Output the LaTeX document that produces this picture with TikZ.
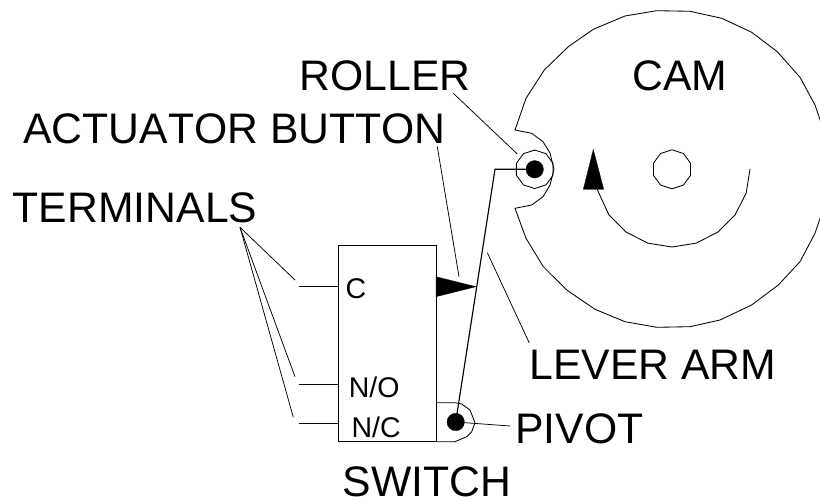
\documentclass[tikz,border=0pt]{standalone}
\usepackage{fontspec}
\usetikzlibrary{shapes.geometric}
\setmainfont[Kerning=Off]{Liberation Sans}
\tikzset{
  line/.style={draw=black,line width=0.85pt,line join=miter},
  leader/.style={draw=black,line width=0.75pt},
  biglabel/.style={inner sep=0pt,anchor=base west,font=\fontsize{42.7}{44}\selectfont},
  smalllabel/.style={inner sep=0pt,anchor=base west,font=\fontsize{28.5}{30}\selectfont},
  solid fill/.style={fill=black,draw=black,line width=0.3pt}
}
\begin{document}
\begin{tikzpicture}[x=1pt,y=1pt]
\clip (0,0) rectangle (820,501);
\fill[white] (0,0) rectangle (820,501);
% y = 501 - pixel y
% cam outline with notch
\draw[line] (515,371) -- (526,402.7) -- (544.3,431) -- (568.3,454.3) -- (593.3,471.7) -- (625,485) -- (656.7,490.3) -- (690,489.7) -- (721.7,482.7) -- (751.7,468.7) -- (777.3,449.3) -- (800,423.7) -- (815,396) -- (826,364) -- (831,331)
  -- (826,300) -- (815,267.7) -- (800,239.3) -- (778.3,216) -- (751.7,196) -- (720,181) -- (690,174.3) -- (656.7,173.7) -- (625,179.3) -- (595,191.7) -- (566.7,211) -- (543.3,234.3) -- (526,262.7)
  -- (515,292.7) -- (531.7,296) -- (543,304.3) -- (550,316) -- (554,331.7)
  -- (550,348) -- (543,359.3) -- (531.7,367.7) -- cycle;
% hub
\node[draw=black,line width=0.85pt,minimum size=39pt,inner sep=0pt,regular polygon,regular polygon sides=10,shape border rotate=18] (hub) at (672,331.7) {};
% rotation arrow
\coordinate (arcstart) at (750,332);
\draw[line] (arcstart)
  -- plot[samples at={-18,-36,...,-144}] ({672+78*cos(\x)},{332+78*sin(\x)})
  -- (597,312);
\fill[solid fill] (593.3,351.7) -- (583.3,311.7) -- (603.7,311.7) -- cycle;
% roller
\node[draw=black,line width=0.85pt,minimum size=38.5pt,inner sep=0pt,regular polygon,regular polygon sides=10,shape border rotate=18] (roller) at (534.7,331.7) {};
\node[circle,solid fill,minimum size=17.5pt,inner sep=0pt] (rollerpin) at (534.7,331.7) {};
% switch body
\node[draw=black,line width=0.85pt,inner sep=0pt,minimum width=98.3pt,minimum height=195.7pt,anchor=south west] (switch) at (337.7,59.3) {};
% terminals
\coordinate (tc) at (299,214.3);
\coordinate (tno) at (299,116.7);
\coordinate (tnc) at (299,77.3);
\draw[line] (tc) -- (tc -| switch.west);
\draw[line] (tno) -- (tno -| switch.west);
\draw[line] (tnc) -- (tnc -| switch.west);
% actuator button
\fill[solid fill] (436,224.3) -- (436,204.3) -- (476,214.3) -- cycle;
% pivot housing
\draw[line] (436,98.3) -- (455,98.3) -- (461.7,97) -- (470,91) -- (475,78.3) -- (471.7,69.3) -- (466.7,64.3) -- (455,59.3) -- (436,59.3);
\node[circle,solid fill,minimum size=17.5pt,inner sep=0pt] (pivotpin) at (455.7,79) {};
% lever arm
\coordinate (leverbend) at (495,331.7);
\draw[draw=black,line width=1.15pt,line join=miter] (rollerpin.center) -- (leverbend) -- (pivotpin.center);
% labels
\node[biglabel] (roller label) at (299.3,410.3) {ROLLER};
\node[biglabel] (cam label) at (632,410) {CAM};
\node[biglabel] (actuator label) at (23.3,357.7) {ACTUATOR BUTTON};
\node[biglabel] (terminals label) at (12.7,278) {TERMINALS};
\node[biglabel] (lever label) at (529.3,121) {LEVER ARM};
\node[biglabel] (pivot label) at (515.3,57.7) {PIVOT};
\node[biglabel] (switch label) at (342.5,4) {SWITCH};
\node[smalllabel] (c label) at (345.3,202.7) {C};
\node[smalllabel] (no label) at (348.7,103.7) {N/O};
\node[smalllabel] (nc label) at (351.3,63) {N/C};
% leaders
\coordinate (rollerfrom) at (453.3,407.7);
\coordinate (rollerto) at (517.3,347);
\draw[leader] (rollerfrom) -- (rollerto);
\coordinate (actfrom) at (437.3,354.3);
\coordinate (actto) at (459,224.3);
\draw[leader] (actfrom) -- (actto);
\coordinate (leverfrom) at (487.3,248.3);
\coordinate (leverto) at (529.3,158);
\draw[leader] (leverfrom) -- (leverto);
\coordinate (pivotfrom) at (465,78.3);
\coordinate (pivotto) at (510,75);
\draw[leader] (pivotfrom) -- (pivotto);
\coordinate (termfrom) at (240,273.7);
\coordinate (termc) at (295,221);
\coordinate (termno) at (295,124.3);
\coordinate (termnc) at (293.3,83.7);
\draw[leader] (termfrom) -- (termc);
\draw[leader] (termfrom) -- (termno);
\draw[leader] (termfrom) -- (termnc);
\end{tikzpicture}
\end{document}
